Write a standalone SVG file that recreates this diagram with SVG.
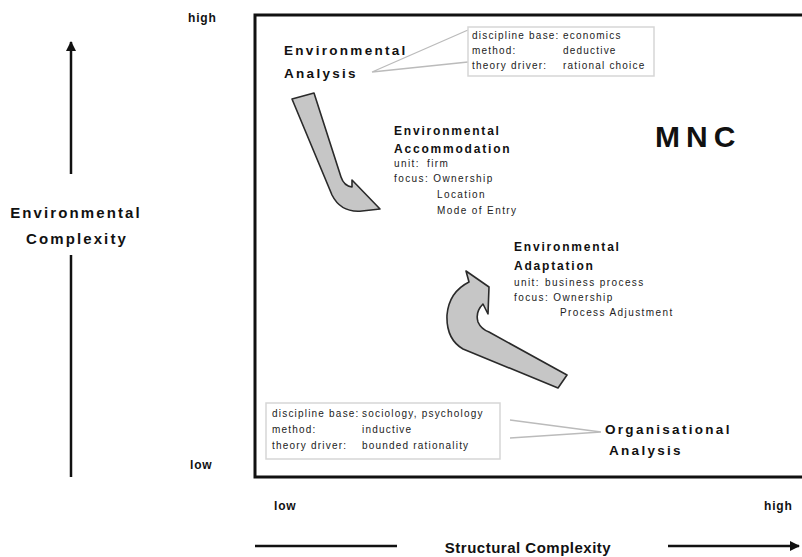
<svg xmlns="http://www.w3.org/2000/svg" width="802" height="557" viewBox="0 0 802 557">
<style>
.b{font-family:"Liberation Sans",Arial,sans-serif;font-weight:bold;fill:#111}
.h1{font-size:13.5px;letter-spacing:2.3px}
.h2{font-size:12px;letter-spacing:1.8px}
.tk{font-size:12px;letter-spacing:0.8px}
.s{font-family:"Liberation Sans",Arial,sans-serif;fill:#222;font-size:10px;letter-spacing:1.4px}
.i{font-family:"Liberation Sans",Arial,sans-serif;fill:#222;font-size:10px;letter-spacing:1.2px}
.ax{stroke:#111;stroke-width:2.5;fill:none}
.lead{stroke:#bbb;stroke-width:1.3;fill:none}
.info{fill:#fff;stroke:#d6d6d6;stroke-width:1.5}
.arr{fill:#c6c6c6;stroke:#2a2a2a;stroke-width:1.6;stroke-linejoin:round}
</style>
<defs>
<marker id="ah" viewBox="0 0 10 10" refX="9" refY="5" markerWidth="4" markerHeight="4" orient="auto" markerUnits="strokeWidth"><path d="M0,0 L10,5 L0,10 Z" fill="#111"/></marker>
</defs>
<rect width="802" height="557" fill="#fff"/>
<g id="axes">
<line class="ax" x1="71" y1="174" x2="71" y2="42" marker-end="url(#ah)"/>
<line class="ax" x1="71" y1="255" x2="71" y2="477"/>
<line class="ax" x1="255" y1="546" x2="397" y2="546"/>
<line class="ax" x1="668" y1="546" x2="799" y2="546" marker-end="url(#ah)"/>
<text class="b" x="76" y="218" font-size="15" text-anchor="middle" style="letter-spacing:2.1px">Environmental</text>
<text class="b" x="77" y="244" font-size="15" text-anchor="middle" style="letter-spacing:2.1px">Complexity</text>
<text class="b" x="528" y="553" font-size="15" text-anchor="middle" style="letter-spacing:0.5px">Structural Complexity</text>
<text class="b tk" x="188" y="22">high</text>
<text class="b tk" x="190" y="469">low</text>
<text class="b tk" x="274" y="510">low</text>
<text class="b tk" x="764" y="510">high</text>
</g>
<g id="frame">
<rect x="255" y="15" width="560" height="462" fill="none" stroke="#111" stroke-width="3"/>
<text class="b" x="655" y="147" font-size="30" style="letter-spacing:6px">MNC</text>
</g>
<g id="connectors">
<path class="lead" d="M372,72 L468,30 M372,72 L468,62"/>
<path class="lead" d="M510,420 L601,432 M510,438 L601,432"/>
</g>
<g id="env-analysis">
<text class="b h1" x="284" y="55">Environmental</text>
<text class="b h1" x="284" y="78">Analysis</text>
</g>
<g id="info-top">
<rect class="info" x="468" y="27" width="186" height="49"/>
<text class="i" x="472" y="39">discipline base:</text><text class="i" x="563" y="39">economics</text>
<text class="i" x="472" y="54">method:</text><text class="i" x="563" y="54">deductive</text>
<text class="i" x="472" y="69">theory driver:</text><text class="i" x="563" y="69">rational choice</text>
</g>
<g id="env-accommodation">
<path class="arr" d="M292,99 L314,93 L341,177 Q344,186 352,187 L352,180 L380,209 L362,211 Q341,213 332,195 Z"/>
<text class="b h2" x="394" y="135">Environmental</text>
<text class="b h2" x="394" y="153">Accommodation</text>
<text class="s" x="394" y="167">unit:</text><text class="s" x="427" y="167">firm</text>
<text class="s" x="394" y="182">focus: Ownership</text>
<text class="s" x="437" y="198">Location</text>
<text class="s" x="437" y="214">Mode of Entry</text>
</g>
<g id="env-adaptation">
<path class="arr" d="M567,375 L558,388 L463,349 Q446,339 447,315 Q449,292 469,282 L466,271 L489,287 L488,314 L483,304 Q475,312 478,322 Q481,329 489,332 Z"/>
<text class="b h2" x="514" y="251">Environmental</text>
<text class="b h2" x="514" y="270">Adaptation</text>
<text class="s" x="514" y="286">unit:</text><text class="s" x="545" y="286">business process</text>
<text class="s" x="514" y="301">focus: Ownership</text>
<text class="s" x="560" y="316">Process Adjustment</text>
</g>
<g id="info-bottom">
<rect class="info" x="266" y="403" width="234" height="56"/>
<text class="i" x="272" y="417">discipline base:</text><text class="i" x="362" y="417">sociology, psychology</text>
<text class="i" x="272" y="433">method:</text><text class="i" x="362" y="433">inductive</text>
<text class="i" x="272" y="449">theory driver:</text><text class="i" x="362" y="449">bounded rationality</text>
</g>
<g id="org-analysis">
<text class="b h1" x="605" y="434">Organisational</text>
<text class="b h1" x="609" y="455">Analysis</text>
</g>
</svg>
